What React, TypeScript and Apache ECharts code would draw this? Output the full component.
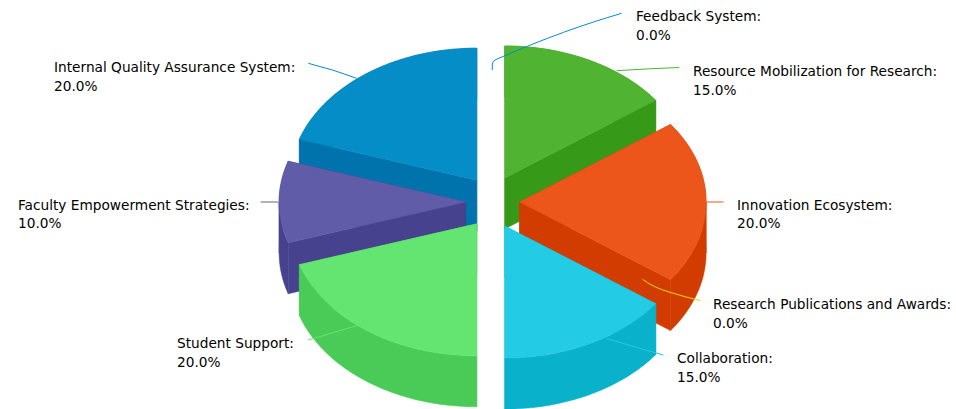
import React, { useEffect, useRef } from "react";
import * as echarts from "echarts";

const categories = [
  "Feedback System",
  "Resource Mobilization for Research",
  "Innovation Ecosystem",
  "Research Publications and Awards",
  "Collaboration",
  "Student Support",
  "Faculty Empowerment Strategies",
  "Internal Quality Assurance System",
];
const values = [0, 15, 20, 0, 15, 20, 10, 20];
const topColors = ["#058DC7", "#50B432", "#ED561B", "#DDDF00", "#24CBE5", "#64E572", "#605CA8", "#058DC7"];
const wallColors = ["#0073AD", "#369A18", "#D33C01", "#C3C500", "#0AB1CB", "#4ACB58", "#46428E", "#0073AD"];

// label anchor (left, top of the first line)
const labelX = [636, 693, 737, 713, 677, 177, 18, 54];
const labelY = [7, 62, 195.5, 295, 349, 334, 195.5, 58];
// connector paths
const connectors = [
  "M 492.3 70 L 492.3 64 Q 492.5 61 496 59.5 C 545 38 585 24 621.7 13.3",
  "M 616.7 70.7 Q 650 68.5 679.3 67.5",
  "M 706.7 202 L 723.5 202",
  "M 642.7 279.3 Q 652 287 670 292.3 Q 685 297 700.7 300.7",
  "M 606.7 338.7 L 663.3 355",
  "M 356.7 325.7 L 308 340",
  "M 260.7 202 L 278 202",
  "M 308.3 63.3 Q 335 70 356.7 78.3",
];

const CX = 492.6, CY = 202, RX = 186.5, RY = 132, DEPTH = 51, EXPLODE = 27;
const total = values.reduce((a, b) => a + b, 0);

const sliceRows = (() => {
  let cum = 0;
  const rows: any[] = [];
  values.forEach((v, i) => {
    const start = cum;
    cum += v;
    if (v > 0) rows.push({ name: categories[i], value: [v, start, i] });
  });
  const mid = (r: any) => ((r.value[1] + r.value[0] / 2) / total) * 2 * Math.PI;
  return rows.sort((a, b) => Math.cos(mid(b)) - Math.cos(mid(a)));
})();

function renderSlice(_p: any, api: any) {
  const v = api.value(0), start = api.value(1), idx = api.value(2);
  const a0 = (start / total) * 2 * Math.PI;
  const a1 = ((start + v) / total) * 2 * Math.PI;
  const m = (a0 + a1) / 2;
  const ox = CX + EXPLODE * Math.sin(m);
  const oy = CY - EXPLODE * Math.cos(m);
  const pt = (a: number, d = 0) => [ox + RX * Math.sin(a), oy - RY * Math.cos(a) + d];
  const arc = (s: number, e: number, d = 0) => {
    const n = Math.max(2, Math.ceil((Math.abs(e - s) * 180) / Math.PI));
    const out: number[][] = [];
    for (let i = 0; i <= n; i++) out.push(pt(s + ((e - s) * i) / n, d));
    return out;
  };
  const top = topColors[idx], wall = wallColors[idx];
  const poly = (points: number[][], fill: string, stroke = fill) => ({
    type: "polygon",
    shape: { points },
    style: { fill, stroke, lineWidth: 0.5, lineJoin: "round" },
  });
  const outer = (s: number, e: number) => poly([...arc(s, e), ...arc(s, e, DEPTH).reverse()], wall);
  const radial = (a: number) => poly([[ox, oy], pt(a), pt(a, DEPTH), [ox, oy + DEPTH]], wall);

  // split the rim at the quarter marks: back parts first, front parts after the inner walls
  const Q1 = Math.PI / 2, Q3 = (3 * Math.PI) / 2;
  const parts: [number, number, boolean][] = [];
  const cuts = [a0, ...[Q1, Q3].filter((q) => q > a0 && q < a1), a1];
  for (let i = 0; i < cuts.length - 1; i++) {
    const mm = (cuts[i] + cuts[i + 1]) / 2;
    parts.push([cuts[i], cuts[i + 1], Math.cos(mm) < 0]);
  }
  const children: any[] = [];
  parts.filter((p) => !p[2]).forEach((p) => children.push(outer(p[0], p[1])));
  children.push(radial(a0), radial(a1));
  parts.filter((p) => p[2]).forEach((p) => children.push(outer(p[0], p[1])));
  children.push(poly([[ox, oy], ...arc(a0, a1)], top));
  return { type: "group", children };
}

function renderLabel(p: any, api: any) {
  const i = p.dataIndex;
  return {
    type: "group",
    children: [
      {
        type: "path",
        shape: { pathData: connectors[i] },
        style: { fill: "none", stroke: topColors[i], lineWidth: 1 },
      },
      {
        type: "text",
        x: labelX[i],
        y: labelY[i],
        style: {
          text: `${categories[i]}:\n${api.value(0).toFixed(1)}%`,
          fill: "#000000",
          font: '13.7px "DejaVu Sans"',
          lineHeight: 18.5,
          textAlign: "left",
          textVerticalAlign: "top",
        },
      },
    ],
  };
}

export default function App() {
  const ref = useRef<HTMLDivElement>(null);
  useEffect(() => {
    const chart = echarts.init(ref.current!, null, { renderer: "svg" });
    chart.setOption({
      animation: false,
      backgroundColor: "#ffffff",
      series: [
        { type: "custom", coordinateSystem: "none", silent: true, renderItem: renderSlice, data: sliceRows, z: 2 },
        {
          type: "custom",
          coordinateSystem: "none",
          silent: true,
          renderItem: renderLabel,
          data: categories.map((name, i) => ({ name, value: [values[i]] })),
          z: 3,
        },
      ],
    });
    return () => chart.dispose();
  }, []);
  return <div ref={ref} style={{ position: "fixed", left: 0, top: 0, width: 956, height: 409 }} />;
}
